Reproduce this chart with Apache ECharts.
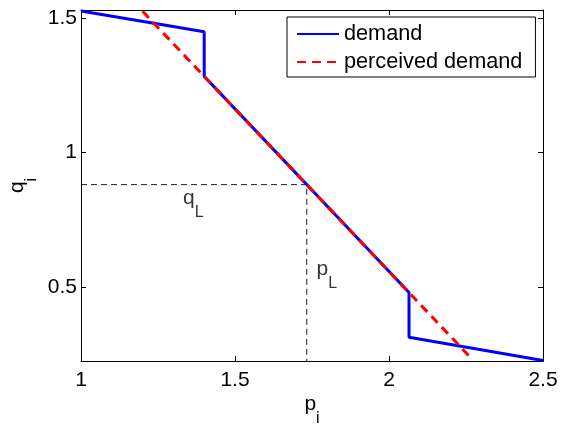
<!DOCTYPE html>
<html>
<head>
<meta charset="utf-8">
<script src="https://cdn.jsdelivr.net/npm/echarts@6/dist/echarts.min.js"></script>
<style>html,body{margin:0;padding:0;background:#fff;}#c{width:561px;height:425px;}</style>
</head>
<body>
<div id="c"></div>
<script>
// Data
var demandP = [1.0, 1.4, 1.4, 2.065, 2.065, 2.5];
var demandQ = [1.527, 1.45, 1.284, 0.479, 0.313, 0.226];
var perceivedP = [1.2, 2.265];
var perceivedQ = [1.526, 0.237];
var pL = 1.733;
var qL = 0.881;
var xTicks = [1, 1.5, 2, 2.5];
var yTicks = [0.5, 1, 1.5];
var xMin = 1, xMax = 2.5, yMin = 0.2243, yMax = 1.531;
var annotP = [1.331, 1.765];
var annotQ = [0.797, 0.534];
var annotText = [['q', 'L'], ['p', 'L']];

function zip(a, b) { return a.map(function (v, i) { return [v, b[i]]; }); }

var FONT = "'Liberation Sans', Arial, Helvetica, sans-serif";
var rich = {
  m: { fontSize: 21, lineHeight: 24, verticalAlign: 'top', color: '#000', fontFamily: FONT },
  s: { fontSize: 16, lineHeight: 16, verticalAlign: 'top', padding: [17, 0, 0, 0], color: '#000', fontFamily: FONT }
};

var chart = echarts.init(document.getElementById('c'), null, { renderer: 'canvas' });
var axisCommon = {
  axisLine: { show: true, onZero: false, lineStyle: { color: '#000', width: 1 } },
  splitLine: { show: false },
  axisTick: { show: true, inside: true, length: 5, lineStyle: { color: '#000' } }
};
var option = {
  animation: false,
  backgroundColor: '#fff',
  textStyle: { fontFamily: FONT },
  grid: { left: 81, right: 18, top: 10, bottom: 64, containLabel: false, outerBoundsMode: 'none' },
  xAxis: [
    Object.assign({}, axisCommon, {
      type: 'value', min: xMin, max: xMax, interval: 0.5, position: 'bottom',
      name: '{m|p}{s|i}', nameLocation: 'middle', nameGap: 33, nameMoveOverlap: false,
      nameTextStyle: { rich: rich },
      axisTick: { show: true, inside: true, length: 5, lineStyle: { color: '#000' }, customValues: xTicks },
      axisLabel: { customValues: xTicks, fontSize: 21, color: '#000', margin: 9, fontFamily: FONT,
        formatter: function (v) { return String(v); } }
    }),
    Object.assign({}, axisCommon, {
      type: 'value', min: xMin, max: xMax, interval: 0.5, position: 'top',
      axisTick: { show: true, inside: true, length: 5, lineStyle: { color: '#000' }, customValues: xTicks },
      axisLabel: { show: false }
    })
  ],
  yAxis: [
    Object.assign({}, axisCommon, {
      type: 'value', min: yMin, max: yMax, position: 'left',
      name: '{m|q}{s|i}', nameLocation: 'middle', nameGap: 50, nameMoveOverlap: false,
      nameTextStyle: { rich: rich },
      axisTick: { show: true, inside: true, length: 5, lineStyle: { color: '#000' }, customValues: yTicks },
      axisLabel: { customValues: yTicks, fontSize: 21, color: '#000', margin: 4, fontFamily: FONT,
        formatter: function (v) { return String(v); } }
    }),
    Object.assign({}, axisCommon, {
      type: 'value', min: yMin, max: yMax, position: 'right',
      axisTick: { show: true, inside: true, length: 5, lineStyle: { color: '#000' }, customValues: yTicks },
      axisLabel: { show: false }
    })
  ],
  legend: {
    data: ['demand', 'perceived demand'],
    orient: 'vertical', left: 287, top: 17,
    padding: [5, 13, 3, 9], itemGap: 4, itemWidth: 42, itemHeight: 14,
    borderColor: '#000', borderWidth: 1, borderRadius: 0, backgroundColor: '#fff',
    itemStyle: { opacity: 0 },
    textStyle: { fontSize: 21.7, lineHeight: 24, color: '#000', fontFamily: FONT }
  },
  series: [
    {
      name: 'guide', type: 'line', symbol: 'none', silent: true,
      data: [[xMin, qL], [pL, qL], [pL, yMin]],
      lineStyle: { color: '#222', width: 1, type: [6, 4] }, z: 1
    },
    {
      name: 'demand', type: 'line', symbol: 'none', data: zip(demandP, demandQ),
      lineStyle: { color: '#0000ff', width: 3 }, itemStyle: { color: '#0000ff' }, z: 2
    },
    {
      name: 'perceived demand', type: 'line', symbol: 'none', data: zip(perceivedP, perceivedQ),
      lineStyle: { color: '#ff0000', width: 3, type: [9, 6] }, itemStyle: { color: '#ff0000' }, z: 3
    },
    {
      name: 'annot', type: 'scatter', symbolSize: 0, silent: true,
      data: annotP.map(function (p, i) {
        return {
          value: [p, annotQ[i]],
          label: {
            show: true, position: [0, 0], align: 'left', verticalAlign: 'top', offset: [0, -19.3],
            formatter: '{m|' + annotText[i][0] + '}{s|' + annotText[i][1] + '}', rich: rich
          }
        };
      })
    }
  ]
};
chart.setOption(option);
</script>
</body>
</html>
